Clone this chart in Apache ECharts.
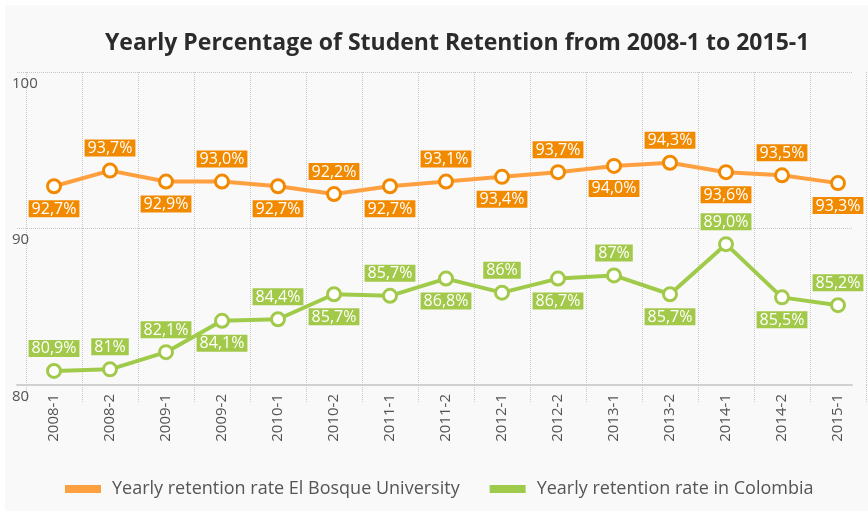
<!DOCTYPE html>
<html>
<head>
<meta charset="utf-8">
<script src="https://cdn.jsdelivr.net/npm/echarts@6/dist/echarts.min.js"></script>
<style>
  html, body { margin: 0; padding: 0; background: #fff; }
  #chart { position: absolute; left: 5px; top: 5px; width: 863px; height: 506px; }
</style>
</head>
<body>
<div id="chart"></div>
<script>
// Semesters on the x axis
const terms = ['2008-1', '2008-2', '2009-1', '2009-2', '2010-1', '2010-2', '2011-1', '2011-2',
  '2012-1', '2012-2', '2013-1', '2013-2', '2014-1', '2014-2', '2015-1'];

// El Bosque University retention (%), as plotted
const bosque = [92.7, 93.7, 93.0, 93.0, 92.7, 92.2, 92.7, 93.0, 93.3, 93.6, 94.0, 94.2, 93.6, 93.4, 92.9];
const bosqueLabels = ['92,7%', '93,7%', '92,9%', '93,0%', '92,7%', '92,2%', '92,7%', '93,1%',
  '93,4%', '93,7%', '94,0%', '94,3%', '93,6%', '93,5%', '93,3%'];
const bosqueLabelPos = ['bottom', 'top', 'bottom', 'top', 'bottom', 'top', 'bottom', 'top',
  'bottom', 'top', 'bottom', 'top', 'bottom', 'top', 'bottom'];

// Colombia retention (%), as plotted
const colombia = [80.9, 81.0, 82.1, 84.1, 84.2, 85.8, 85.7, 86.8, 85.9, 86.8, 87.0, 85.8, 89.0, 85.6, 85.1];
const colombiaLabels = ['80,9%', '81%', '82,1%', '84,1%', '84,4%', '85,7%', '85,7%', '86,8%',
  '86%', '86,7%', '87%', '85,7%', '89,0%', '85,5%', '85,2%'];
const colombiaLabelPos = ['top', 'top', 'top', 'bottom', 'top', 'bottom', 'top', 'bottom',
  'top', 'bottom', 'top', 'bottom', 'top', 'bottom', 'top'];

const yTicks = { min: 80, max: 100, interval: 10 };

const FONT = 'Open Sans';
const ORANGE_LINE = '#ffa040';
const ORANGE_DARK = '#f28a00';
const GREEN_LINE = '#a0cb4a';
const GREEN_DARK = '#a3c94a';

function points(values, labels, pos) {
  return values.map((v, i) => ({
    value: v,
    label: { position: pos[i], formatter: labels[i] }
  }));
}

function lineSeries(name, values, labels, pos, lineColor, darkColor) {
  return {
    name,
    type: 'line',
    xAxisIndex: 0,
    yAxisIndex: 0,
    data: points(values, labels, pos),
    symbol: 'circle',
    symbolSize: 13,
    lineStyle: { color: lineColor, width: 4 },
    itemStyle: { color: '#fff', borderColor: darkColor, borderWidth: 3 },
    label: {
      show: true,
      distance: 6,
      color: '#fff',
      backgroundColor: darkColor,
      padding: [1, 3, 0, 3],
      fontFamily: FONT,
      fontSize: 16,
      lineHeight: 16
    },
    emphasis: { disabled: true },
    z: 3
  };
}

const myChart = echarts.init(document.getElementById('chart'));

const option = {
  backgroundColor: '#f9f9f9',
  animation: false,
  title: {
    text: 'Yearly Percentage of Student Retention from 2008-1 to 2015-1',
    left: 95,
    top: 22,
    textStyle: { fontFamily: FONT, fontSize: 23, fontWeight: 'bold', color: '#2b2b2b' }
  },
  legend: {
    bottom: 8,
    left: 55,
    itemGap: 30,
    itemWidth: 36,
    itemHeight: 8,
    icon: 'rect',
    textStyle: { fontFamily: FONT, fontSize: 18, color: '#555', padding: [0, 0, 0, 6] },
    data: [
      { name: 'Yearly retention rate El Bosque University', itemStyle: { color: ORANGE_LINE, borderWidth: 0 } },
      { name: 'Yearly retention rate in Colombia', itemStyle: { color: GREEN_LINE, borderWidth: 0 } }
    ]
  },
  grid: [
    // data grid (category bands)
    { left: 21, right: 2, top: 67, bottom: 126 },
    // frame grid for horizontal lines and the base axis line
    { left: 12, right: 16, top: 67, bottom: 126 }
  ],
  xAxis: [
    {
      type: 'category',
      gridIndex: 0,
      data: terms,
      boundaryGap: true,
      axisLine: { show: false },
      axisTick: { show: true, length: 18, lineStyle: { color: '#c8c8c8', type: 'dotted' } },
      splitLine: { show: true, lineStyle: { color: '#c8c8c8', type: 'dotted' } },
      axisLabel: { rotate: 90, margin: 9, fontFamily: FONT, fontSize: 15, color: '#555' }
    },
    {
      type: 'value',
      gridIndex: 1,
      axisLine: { show: true, lineStyle: { color: '#d0d0d0', width: 2 } },
      axisTick: { show: false },
      axisLabel: { show: false },
      splitLine: { show: false }
    }
  ],
  yAxis: [
    {
      type: 'value',
      gridIndex: 0,
      min: yTicks.min,
      max: yTicks.max,
      interval: yTicks.interval,
      axisLine: { show: false },
      axisTick: { show: false },
      axisLabel: { show: false },
      splitLine: { show: false }
    },
    {
      type: 'value',
      gridIndex: 1,
      min: yTicks.min,
      max: yTicks.max,
      interval: yTicks.interval,
      axisLine: { show: false },
      axisTick: { show: false },
      splitLine: { show: true, lineStyle: { color: '#c8c8c8', type: 'dotted' } },
      axisLabel: {
        inside: true,
        margin: -5,
        verticalAlign: 'top',
        padding: [4, 0, 0, 0],
        fontFamily: FONT,
        fontSize: 15,
        color: '#555'
      }
    }
  ],
  series: [
    lineSeries('Yearly retention rate El Bosque University', bosque, bosqueLabels, bosqueLabelPos, ORANGE_LINE, ORANGE_DARK),
    lineSeries('Yearly retention rate in Colombia', colombia, colombiaLabels, colombiaLabelPos, GREEN_LINE, GREEN_DARK)
  ]
};

myChart.setOption(option);
</script>
</body>
</html>
